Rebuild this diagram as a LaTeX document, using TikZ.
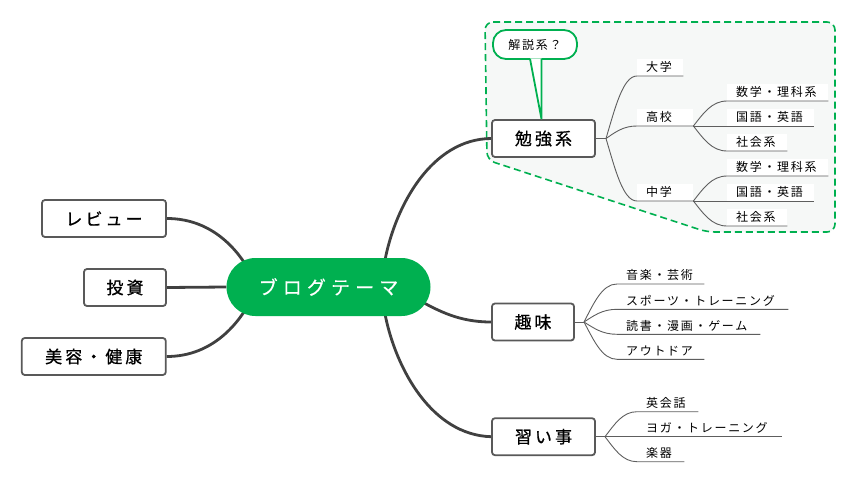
\documentclass[tikz,border=0pt]{standalone}
\usepackage{fontspec}
\newfontfamily\jpmain[LetterSpace=18, FakeBold=0.8]{Noto Sans CJK JP}
\newfontfamily\jproot[LetterSpace=27, FakeBold=0.3]{Noto Sans CJK JP}
\newfontfamily\jpsub[LetterSpace=14]{Noto Sans CJK JP}
\usetikzlibrary{calc}
\definecolor{mmgreen}{HTML}{00B050}
\definecolor{boxgray}{HTML}{595959}
\definecolor{linegray}{HTML}{404040}
\definecolor{subgray}{HTML}{5E5E5E}
\definecolor{grpfill}{HTML}{F6F8F7}
\pgfdeclarelayer{grp}
\pgfdeclarelayer{lines}
\pgfsetlayers{grp,lines,main}
\newcommand\mlab[2]{\makebox[#1pt][l]{\hspace{9pt}#2}}
\begin{document}
\begin{tikzpicture}[x=1pt,y=-1pt,
  mmroot/.style={fill=mmgreen, rounded corners=29pt, minimum width=204pt, minimum height=58pt, inner sep=0pt, text=white, font=\jproot\fontsize{19}{22}\selectfont},
  mmtopic/.style={draw=boxgray, line width=1.8pt, rounded corners=3pt, fill=white, minimum height=37pt, inner sep=0pt, font=\jpmain\fontsize{17}{20}\selectfont},
  mmline/.style={draw=linegray, line width=2.8pt},
  mmsub/.style={draw=subgray, line width=0.9pt},
  mmleaf/.style={fill=white, inner sep=0pt, minimum height=17pt, anchor=south west, font=\jpsub\fontsize{12}{14}\selectfont},
  mmnote/.style={draw=mmgreen, line width=1.8pt, fill=white, rounded corners=13pt, minimum width=84pt, minimum height=29pt, inner sep=0pt, font=\jpsub\fontsize{12}{14}\selectfont},
  mmgroup/.style={draw=mmgreen, line width=1.6pt, dash pattern=on 7pt off 4pt, fill=grpfill, rounded corners=8pt}
]
\useasboundingbox (0,0) rectangle (857,482);

% group boundary
\begin{pgfonlayer}{grp}
\draw[mmgroup] (485,22) -- (835,22) -- (835,232) -- (707,232) -- (487,160) -- cycle;
\end{pgfonlayer}

% main nodes
\node[mmroot] (root) at (328.5,287) {ブログテーマ};
\node[mmtopic, minimum width=124pt] (rev) at (104,218.5) {レビュー};
\node[mmtopic, minimum width=82pt] (inv) at (125,287.5) {投資};
\node[mmtopic, minimum width=144pt] (beauty) at (93.8,356.5) {美容・健康};
\node[mmtopic, minimum width=103pt] (study) at (543.5,138.5) {勉強系};
\node[mmtopic, minimum width=82pt] (hobby) at (533,322) {趣味};
\node[mmtopic, minimum width=103pt] (lesson) at (543.5,436.7) {習い事};

% main connectors
\coordinate (rNW) at ($(root.center)+(-78.5,-15)$);
\coordinate (rSW) at ($(root.center)+(-78.5,15)$);
\coordinate (rNE) at ($(root.center)+(56.5,-27)$);
\coordinate (rSE) at ($(root.center)+(56.5,27)$);
\coordinate (rE) at ($(root.center)+(86.5,11)$);
\begin{pgfonlayer}{lines}
\draw[mmline] (rev.east) .. controls (214,218.5) and (239.4,252.7) .. (rNW);
\draw[mmline] (inv.east) -- (root.west);
\draw[mmline] (beauty.east) .. controls (214,356.5) and (239.4,321.3) .. (rSW);
\draw[mmline] (rNE) .. controls (395.7,205) and (432,139) .. (study.west);
\draw[mmline] (rE) .. controls (440,312) and (460,322) .. (hobby.west);
\draw[mmline] (rSE) .. controls (395.7,369) and (432,435) .. (lesson.west);
\end{pgfonlayer}

% callout
\node[mmnote] (note) at (535,44.5) {解説系？};
\coordinate (tip) at ($(study.north)+(-2,0)$);
\fill[white] ($(note.south)+(-5,-1.6)$) -- (tip) -- ($(note.south)+(6.5,-1.6)$) -- cycle;
\draw[mmgreen, line width=1.8pt] ($(note.south)+(-5,-1.2)$) -- (tip) -- ($(note.south)+(6.5,-1.2)$);

% study leaves
\node[mmleaf] (s1) at (637,76) {\mlab{46}{大学}};
\node[mmleaf] (s2) at (637,126) {\mlab{56}{高校}};
\node[mmleaf] (s3) at (637,201) {\mlab{56}{中学}};
\node[mmleaf] (s21) at (727,101) {\mlab{101}{数学・理科系}};
\node[mmleaf] (s22) at (727,126) {\mlab{87}{国語・英語}};
\node[mmleaf] (s23) at (727,151) {\mlab{60}{社会系}};
\node[mmleaf] (s31) at (727,176) {\mlab{101}{数学・理科系}};
\node[mmleaf] (s32) at (727,201) {\mlab{87}{国語・英語}};
\node[mmleaf] (s33) at (727,226) {\mlab{60}{社会系}};
\coordinate (F1) at (606,138.5);
\draw[mmsub] (study.east) -- (F1);
\draw[mmsub] (F1) .. controls (615.3,107.25) and (623,76) .. (s1.south west) -- (s1.south east);
\draw[mmsub] (F1) .. controls (615.3,132.25) and (623,126) .. (s2.south west) -- (s2.south east);
\draw[mmsub] (F1) .. controls (615.3,169.75) and (623,201) .. (s3.south west) -- (s3.south east);
\draw[mmsub] (s2.south east) .. controls (703.2,113.5) and (711.7,101) .. (s21.south west) -- (s21.south east);
\draw[mmsub] (s2.south east) -- (s22.south east);
\draw[mmsub] (s2.south east) .. controls (703.2,138.5) and (711.7,151) .. (s23.south west) -- (s23.south east);
\draw[mmsub] (s3.south east) .. controls (703.2,188.5) and (711.7,176) .. (s31.south west) -- (s31.south east);
\draw[mmsub] (s3.south east) -- (s32.south east);
\draw[mmsub] (s3.south east) .. controls (703.2,213.5) and (711.7,226) .. (s33.south west) -- (s33.south east);

% hobby leaves
\node[mmleaf] (h1) at (617,284) {\mlab{87}{音楽・芸術}};
\node[mmleaf] (h2) at (617,309.3) {\mlab{171}{スポーツ・トレーニング}};
\node[mmleaf] (h3) at (617,334.3) {\mlab{143}{読書・漫画・ゲーム}};
\node[mmleaf] (h4) at (617,359.3) {\mlab{87}{アウトドア}};
\coordinate (F4) at (584,322);
\draw[mmsub] (hobby.east) -- (F4);
\draw[mmsub] (F4) .. controls (593.9,303) and (602.2,284) .. (h1.south west) -- (h1.south east);
\draw[mmsub] (F4) .. controls (593.9,315.65) and (602.2,309.3) .. (h2.south west) -- (h2.south east);
\draw[mmsub] (F4) .. controls (593.9,328.15) and (602.2,334.3) .. (h3.south west) -- (h3.south east);
\draw[mmsub] (F4) .. controls (593.9,340.65) and (602.2,359.3) .. (h4.south west) -- (h4.south east);

% lesson leaves
\node[mmleaf] (l1) at (637,411.7) {\mlab{61}{英会話}};
\node[mmleaf] (l2) at (637,436.7) {\mlab{145}{ヨガ・トレーニング}};
\node[mmleaf] (l3) at (637,461.7) {\mlab{47}{楽器}};
\coordinate (F5) at (605,436.7);
\draw[mmsub] (lesson.east) -- (F5);
\draw[mmsub] (F5) .. controls (614.6,424.2) and (622.6,411.7) .. (l1.south west) -- (l1.south east);
\draw[mmsub] (F5) -- (l2.south east);
\draw[mmsub] (F5) .. controls (614.6,449.2) and (622.6,461.7) .. (l3.south west) -- (l3.south east);
\end{tikzpicture}
\end{document}
